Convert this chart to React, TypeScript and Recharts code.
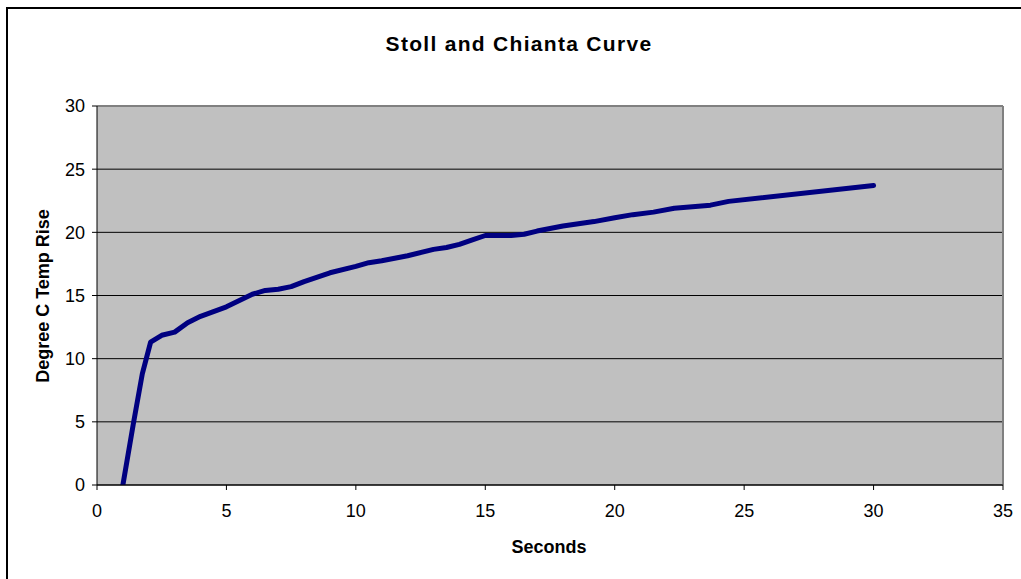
import { CartesianGrid, Line, LineChart, ReferenceLine, XAxis, YAxis } from 'recharts'

// exposure time (s) and matching temperature rise (°C)
const seconds = [
  1, 1.4, 1.75, 2.07, 2.5, 3, 3.5, 4, 5, 6, 6.5, 7, 7.5, 8, 9, 10, 10.5, 11, 12, 13, 13.5, 14,
  14.5, 15, 16, 16.5, 17, 18, 19.2, 20, 20.7, 21.5, 22.3, 23.7, 24.4, 30,
]
const tempRise = [
  0, 4.8, 8.8, 11.3, 11.85, 12.1, 12.85, 13.35, 14.1, 15.1, 15.4, 15.5, 15.7, 16.1, 16.8, 17.3,
  17.6, 17.75, 18.15, 18.65, 18.8, 19.05, 19.4, 19.75, 19.75, 19.85, 20.1, 20.5, 20.85, 21.15,
  21.4, 21.6, 21.9, 22.15, 22.45, 23.7,
]
const xTicks = [0, 5, 10, 15, 20, 25, 30, 35]
const yTicks = [0, 5, 10, 15, 20, 25, 30]

const data = seconds.map((s, i) => ({ s, rise: tempRise[i] }))

const FONT = 'Arial, "Liberation Sans", sans-serif'

export default function App() {
  return (
    <div
      style={{
        position: 'relative',
        width: 1021,
        height: 579,
        overflow: 'hidden',
        background: '#fff',
        fontFamily: FONT,
      }}
    >
      <style>{'body{margin:0}'}</style>
      <div
        style={{
          position: 'absolute',
          left: 6,
          top: 7,
          width: 1100,
          height: 700,
          border: '2px solid #000',
        }}
      />
      <div style={{ position: 'absolute', left: 0, top: 0 }}>
        <LineChart
          width={1021}
          height={579}
          data={data}
          margin={{ top: 106, right: 18, left: 0, bottom: 54 }}
        >
          <CartesianGrid vertical={false} stroke="#000" strokeWidth={1} fill="#c0c0c0" fillOpacity={1} />
          <XAxis
            type="number"
            dataKey="s"
            domain={[0, 35]}
            ticks={xTicks}
            height={40}
            stroke="#000"
            tickSize={5}
            tickMargin={14}
            tick={{ fill: '#000', fontSize: 18, fontFamily: FONT }}
            allowDataOverflow
          />
          <YAxis
            type="number"
            domain={[0, 30]}
            ticks={yTicks}
            width={97}
            stroke="#000"
            tickSize={5}
            tickMargin={7}
            tick={{ fill: '#000', fontSize: 18, fontFamily: FONT }}
            allowDataOverflow
          />
          <ReferenceLine y={30} stroke="#808080" strokeWidth={2} />
          <ReferenceLine x={35} stroke="#808080" strokeWidth={2} />
          <Line
            type="linear"
            dataKey="rise"
            stroke="#000080"
            strokeWidth={5}
            strokeLinejoin="round"
            strokeLinecap="round"
            dot={false}
            activeDot={false}
            isAnimationActive={false}
          />
        </LineChart>
      </div>
      <svg
        width={1021}
        height={579}
        style={{ position: 'absolute', left: 0, top: 0, pointerEvents: 'none' }}
      >
        <text
          x={519}
          y={51}
          textAnchor="middle"
          fontSize={21}
          fontWeight="bold"
          letterSpacing={1.3}
          fontFamily={FONT}
          fill="#000"
        >
          Stoll and Chianta Curve
        </text>
        <text
          x={549}
          y={553}
          textAnchor="middle"
          fontSize={18}
          fontWeight="bold"
          fontFamily={FONT}
          fill="#000"
        >
          Seconds
        </text>
        <text
          x={49}
          y={296}
          textAnchor="middle"
          fontSize={18}
          fontWeight="bold"
          fontFamily={FONT}
          fill="#000"
          transform="rotate(-90 49 296)"
        >
          Degree C Temp Rise
        </text>
      </svg>
    </div>
  )
}
